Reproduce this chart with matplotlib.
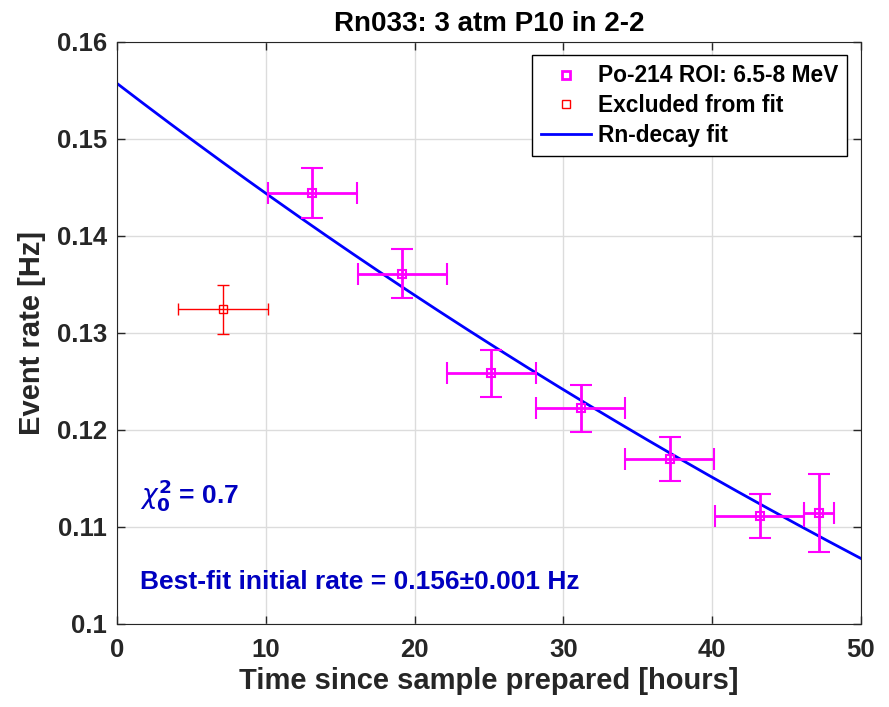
import numpy as np
import matplotlib
matplotlib.use('Agg')
import matplotlib.pyplot as plt

plt.rcParams['font.family'] = ['Liberation Sans', 'DejaVu Sans']
plt.rcParams['mathtext.fontset'] = 'dejavusans'

# data points (hours, Hz)
fit_t = [13.13, 19.17, 25.15, 31.16, 37.14, 43.19, 47.16]
fit_rate = [0.1444, 0.1361, 0.1258, 0.1222, 0.1170, 0.1111, 0.1114]
fit_rate_err = [0.0026, 0.0025, 0.0024, 0.0024, 0.0023, 0.0023, 0.0040]
fit_t_err = [3.0, 3.0, 3.0, 3.0, 3.0, 3.0, 1.0]

excl_t = [7.13]
excl_rate = [0.1324]
excl_rate_err = [0.0025]
excl_t_err = [3.0]

# fit parameters
rate0 = 0.1557
half_life = 91.76  # Rn-222, hours

fig = plt.figure(figsize=(8.89, 7.07), dpi=100)
ax = fig.add_axes([0.1316, 0.1178, 0.8369, 0.8232])

tt = np.linspace(0, 50, 200)
ax.errorbar(fit_t, fit_rate, yerr=fit_rate_err, xerr=fit_t_err, fmt='s', color='magenta',
            mfc='none', ms=6, mew=1.5, elinewidth=2, capsize=8, capthick=2, zorder=3)
ax.errorbar(excl_t, excl_rate, yerr=excl_rate_err, xerr=excl_t_err, fmt='s', color='red',
            mfc='none', ms=6, mew=1, elinewidth=1, capsize=4, capthick=1, zorder=3)
ax.plot(tt, rate0 * np.exp(-np.log(2) * tt / half_life), color='blue', lw=2, zorder=2)

# legend handles
h1, = ax.plot([], [], 's', color='magenta', mfc='none', ms=6, mew=2)
h2, = ax.plot([], [], 's', color='red', mfc='none', ms=6, mew=1)
h3, = ax.plot([], [], '-', color='blue', lw=2)
leg = ax.legend([h1, h2, h3], ['Po-214 ROI: 6.5-8 MeV', 'Excluded from fit', 'Rn-decay fit'],
                loc='upper right', fancybox=False, edgecolor='black', framealpha=1,
                prop={'weight': 'bold', 'size': 16.4}, handlelength=2.2, borderaxespad=0.6,
                labelspacing=0.3, handletextpad=0.3, borderpad=0.4)
leg.get_frame().set_linewidth(1)

ax.text(1.55, 0.1133, r'$\chi_\mathbf{0}^\mathbf{2}$ = 0.7', color='#0000c0', fontsize=19,
        fontweight='bold', va='center')
ax.text(1.55, 0.1043, 'Best-fit initial rate = 0.156\u00b10.001 Hz', color='#0000c0',
        fontsize=19, fontweight='bold', va='center')

ax.set_xlim(0, 50)
ax.set_ylim(0.1, 0.16)
ax.set_xticks([0, 10, 20, 30, 40, 50])
ax.set_yticks([0.1, 0.11, 0.12, 0.13, 0.14, 0.15, 0.16])
ax.set_yticklabels(['0.1', '0.11', '0.12', '0.13', '0.14', '0.15', '0.16'])
ax.grid(True, color='#dcdcdc', lw=1)
ax.set_axisbelow(True)
ax.tick_params(direction='in', top=True, right=True, length=6, labelsize=18.5, width=1,
               colors='#262626')
ax.tick_params(axis='x', pad=10)
ax.tick_params(axis='y', pad=7)
for lab in ax.get_xticklabels() + ax.get_yticklabels():
    lab.set_fontweight('bold')
for s in ax.spines.values():
    s.set_color('#262626')

ax.set_xlabel('Time since sample prepared [hours]', fontsize=21, fontweight='bold',
              color='#262626', labelpad=4)
ax.set_ylabel('Event rate [Hz]', fontsize=21, fontweight='bold', color='#262626', labelpad=8)
ax.set_title('Rn033: 3 atm P10 in 2-2', fontsize=20, fontweight='bold', pad=8)

fig.savefig('out.png', dpi=100)
